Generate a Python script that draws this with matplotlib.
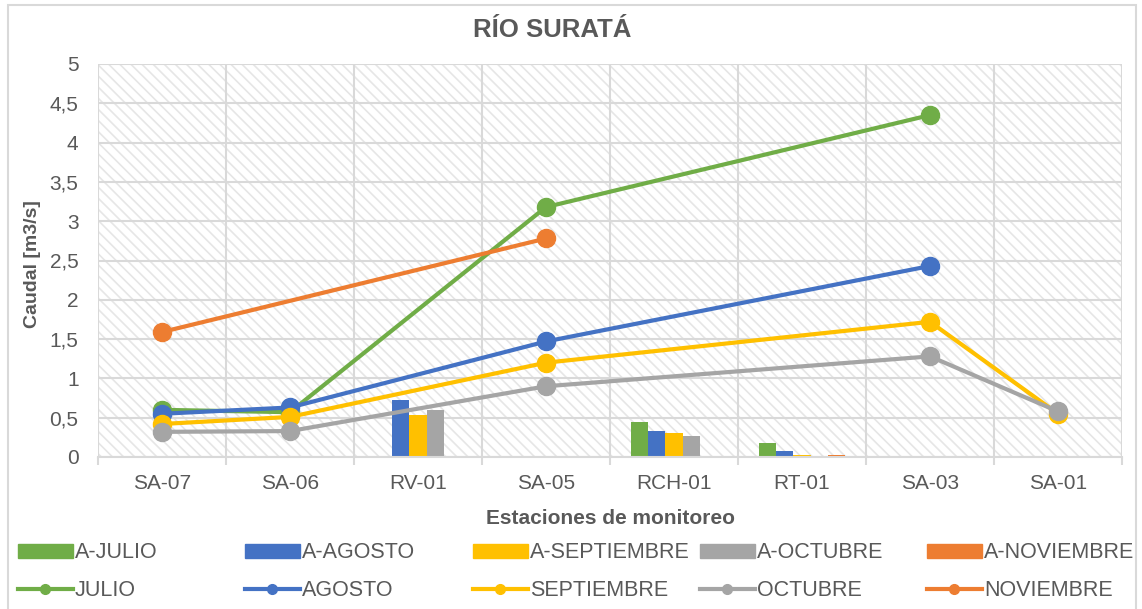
import numpy as np
import matplotlib
matplotlib.use("Agg")
import matplotlib.pyplot as plt
from matplotlib.patches import Rectangle, Patch
from matplotlib.lines import Line2D
from matplotlib.ticker import FuncFormatter

nan = np.nan

# estaciones de monitoreo
stations = ["SA-07", "SA-06", "RV-01", "SA-05", "RCH-01", "RT-01", "SA-03", "SA-01"]
months = ["JULIO", "AGOSTO", "SEPTIEMBRE", "OCTUBRE", "NOVIEMBRE"]
colors = ["#70AD47", "#4472C4", "#FFC000", "#A5A5A5", "#ED7D31"]

# caudales de afluentes (barras) [m3/s]
bar_julio = [nan, nan, nan, nan, 0.44, 0.18, nan, nan]
bar_agosto = [nan, nan, 0.73, nan, 0.33, 0.08, nan, nan]
bar_septiembre = [nan, nan, 0.54, nan, 0.31, 0.03, nan, nan]
bar_octubre = [nan, nan, 0.60, nan, 0.27, nan, nan, nan]
bar_noviembre = [nan, nan, nan, nan, nan, 0.03, nan, nan]

# caudales del rio (lineas) [m3/s]
line_julio = [0.60, 0.57, nan, 3.18, nan, nan, 4.35, nan]
line_agosto = [0.55, 0.63, nan, 1.47, nan, nan, 2.43, nan]
line_septiembre = [0.42, 0.51, nan, 1.20, nan, nan, 1.72, 0.55]
line_octubre = [0.32, 0.33, nan, 0.90, nan, nan, 1.28, 0.58]
line_noviembre = [1.59, nan, nan, 2.78, nan, nan, nan, nan]

bars = [bar_julio, bar_agosto, bar_septiembre, bar_octubre, bar_noviembre]
lines = [line_julio, line_agosto, line_septiembre, line_octubre, line_noviembre]

txt = "#595959"
grid = "#d9d9d9"
plt.rcParams["font.family"] = ["Liberation Sans", "DejaVu Sans"]
plt.rcParams["hatch.linewidth"] = 1.2

fig = plt.figure(figsize=(11.42, 6.09), dpi=100)
ax = fig.add_axes([98 / 1142, 1 - 457 / 609, 1024 / 1142, 393 / 609])

# fondo con trama diagonal
ax.add_patch(Rectangle((0, 0), 1, 1, transform=ax.transAxes, facecolor="white",
                       edgecolor="#e6e6e6", linewidth=0, hatch="\\" * 3, zorder=0))

x = np.arange(len(stations))
w = 0.133
for i, (vals, c) in enumerate(zip(bars, colors)):
    ax.bar(x + (i - 2) * w, vals, width=w, color=c, zorder=2)

for vals, c in zip(lines, colors):
    v = np.array(vals)
    ok = ~np.isnan(v)
    ax.plot(x[ok], v[ok], color=c, lw=3, marker="o", markersize=13,
            solid_capstyle="round", zorder=3)

ax.set_xlim(-0.5, len(stations) - 0.5)
ax.set_ylim(0, 5)
ax.set_yticks(np.arange(0, 5.01, 0.5))
ax.yaxis.set_major_formatter(FuncFormatter(lambda v, p: ("%g" % v).replace(".", ",")))
ax.set_xticks(np.arange(-0.5, len(stations), 1))
ax.set_xticklabels([])
ax.set_xticks(x, minor=True)
ax.set_xticklabels(stations, minor=True)
ax.tick_params(axis="x", which="major", length=6, color=grid, width=1.5)
ax.tick_params(axis="x", which="minor", length=0, pad=12, labelsize=15, labelcolor=txt)
ax.tick_params(axis="y", length=0, pad=14, labelsize=15, labelcolor=txt)
ax.grid(True, which="major", color=grid, lw=1.5, zorder=1)
ax.set_axisbelow(True)
for s in ["top", "right", "left"]:
    ax.spines[s].set_visible(False)
ax.spines["bottom"].set_color(grid)
ax.spines["bottom"].set_linewidth(1.5)

ax.set_xlabel("Estaciones de monitoreo", fontsize=15, fontweight="bold", color=txt, labelpad=12)
ax.set_ylabel("Caudal [m3/s]", fontsize=14, fontweight="bold", color=txt)
ax.yaxis.set_label_coords(-0.056, 0.49)
fig.text(552 / 1142, 1 - 30 / 609, "RÍO SURATÁ", ha="center", va="center",
         fontsize=18.5, fontweight="bold", color=txt)

# borde del grafico
fig.add_artist(Rectangle((8 / 1142, -0.01), 1128 / 1142, 1.01 - 5 / 609, transform=fig.transFigure,
                         fill=False, edgecolor=grid, lw=1.5))

# leyenda: columnas de ancho fijo como en Excel
col_x = [18, 245, 473, 700, 927]
for i, m in enumerate(months):
    hb = Patch(color=colors[i], label="A-" + m)
    hl = Line2D([], [], color=colors[i], lw=3, marker="o", markersize=7, label=m)
    for h, yy in [(hb, 553), (hl, 591)]:
        fig.legend(handles=[h], loc="center left", bbox_to_anchor=(col_x[i] / 1142, 1 - yy / 609),
                   frameon=False, fontsize=15.5, labelcolor=txt, handlelength=2.55,
                   handleheight=0.66, handletextpad=0.1, borderpad=0, borderaxespad=0)

fig.savefig("out.png", dpi=100)
